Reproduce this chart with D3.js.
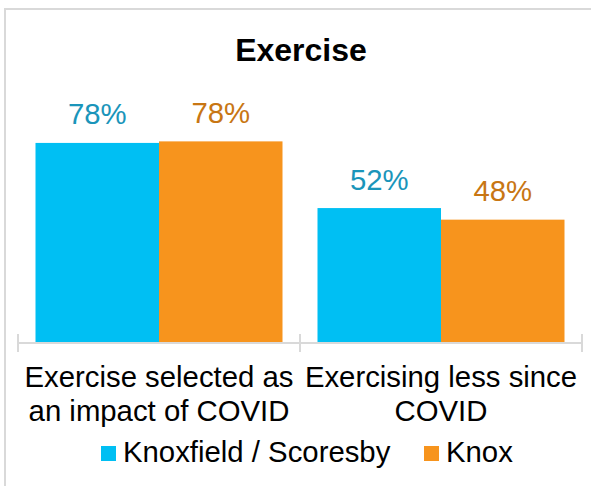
<!DOCTYPE html>
<html>
<head>
<meta charset="utf-8">
<script src="https://cdn.jsdelivr.net/npm/d3@7"></script>
<style>
  html, body { margin: 0; padding: 0; background: #fff; }
  svg { display: block; font-family: "Liberation Sans", Arial, sans-serif; }
</style>
</head>
<body>
<div id="chart"></div>
<script>
const title = "Exercise";
const categories = ["Exercise selected as an impact of COVID", "Exercising less since COVID"];
const categoryLines = [["Exercise selected as", "an impact of COVID"], ["Exercising less since", "COVID"]];
const seriesNames = ["Knoxfield / Scoresby", "Knox"];
const knoxfieldValues = [77.7, 52.4];
const knoxValues = [78.3, 47.9];
const valueLabels = [["78%", "52%"], ["78%", "48%"]];

const W = 591, H = 486;
const barColors = ["#00BFF3", "#F7941D"];
const labelColors = ["#1A95BA", "#C87613"];
const gridColor = "#d9d9d9";
const fs = 29.33;

const svg = d3.select("#chart").append("svg").attr("width", W).attr("height", H);

// chart frame
svg.append("rect").attr("x", 5).attr("y", 9).attr("width", 620).attr("height", 520)
  .attr("fill", "none").attr("stroke", gridColor).attr("stroke-width", 2);

const baseY = 343;
const y = d3.scaleLinear().domain([0, 100]).range([baseY, baseY - 257.5]);
const x0 = d3.scaleBand().domain(categories).range([18, 582]).padding(0);
const x1 = d3.scaleBand().domain(seriesNames).range([17.5, x0.bandwidth() - 17.5]).padding(0);

const seriesValues = [knoxfieldValues, knoxValues];

// title
svg.append("text").attr("x", 301).attr("y", 60.5).attr("text-anchor", "middle")
  .attr("font-size", 32).attr("font-weight", "bold").attr("fill", "#000").text(title);

// bars
categories.forEach((c, ci) => {
  seriesNames.forEach((s, si) => {
    const v = seriesValues[si][ci];
    const bx = x0(c) + x1(s);
    svg.append("rect").attr("x", bx).attr("y", y(v))
      .attr("width", x1.bandwidth()).attr("height", baseY - y(v))
      .attr("fill", barColors[si]);
    svg.append("text").attr("x", bx + x1.bandwidth() / 2).attr("y", y(v) - 18.5)
      .attr("text-anchor", "middle").attr("font-size", fs).attr("fill", labelColors[si])
      .text(valueLabels[si][ci]);
  });
});

// axis line and ticks at category boundaries
const tickPos = d3.scaleLinear().domain([0, categories.length]).range(x0.range());
svg.append("line").attr("x1", tickPos(0)).attr("x2", tickPos(categories.length))
  .attr("y1", baseY).attr("y2", baseY).attr("stroke", gridColor).attr("stroke-width", 2);
d3.range(categories.length + 1).forEach(i => {
  svg.append("line").attr("x1", tickPos(i)).attr("x2", tickPos(i))
    .attr("y1", baseY - 9).attr("y2", baseY + 9)
    .attr("stroke", gridColor).attr("stroke-width", 2);
});

// category labels
categories.forEach((c, ci) => {
  const cx = x0(c) + x0.bandwidth() / 2;
  categoryLines[ci].forEach((line, li) => {
    svg.append("text").attr("x", cx).attr("y", 386.5 + li * 34.5)
      .attr("text-anchor", "middle").attr("font-size", fs).attr("fill", "#000").text(line);
  });
});

// legend
const legendX = [101, 424];
seriesNames.forEach((s, si) => {
  svg.append("rect").attr("x", legendX[si]).attr("y", 446).attr("width", 15).attr("height", 15)
    .attr("fill", barColors[si]);
  svg.append("text").attr("x", legendX[si] + 22).attr("y", 461.5)
    .attr("font-size", fs).attr("fill", "#000").text(s);
});
</script>
</body>
</html>
